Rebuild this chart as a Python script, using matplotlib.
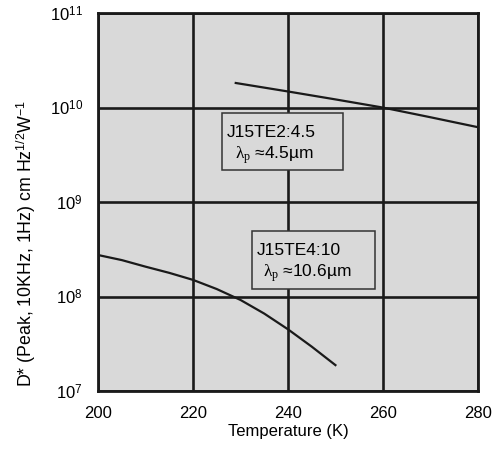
import matplotlib

matplotlib.use("Agg")

import matplotlib.pyplot as plt
from matplotlib.patches import Rectangle
from matplotlib.ticker import FixedLocator, FixedFormatter, NullLocator

plt.rcParams["font.family"] = ["Liberation Sans", "DejaVu Sans"]
plt.rcParams["mathtext.fontset"] = "custom"
plt.rcParams["mathtext.rm"] = "Liberation Sans"
plt.rcParams["mathtext.it"] = "Liberation Serif"
plt.rcParams["mathtext.bf"] = "Liberation Sans:bold"

# J15TE2:4.5 (lambda_p ~ 4.5 um)
temp_45 = [229, 240, 250, 260, 270, 280]
dstar_45 = [1.82e10, 1.48e10, 1.22e10, 1.0e10, 7.9e9, 6.2e9]

# J15TE4:10 (lambda_p ~ 10.6 um)
temp_106 = [200, 205, 210, 215, 220, 225, 230, 235, 240, 245, 250]
dstar_106 = [2.75e8, 2.43e8, 2.07e8, 1.78e8, 1.5e8, 1.2e8, 9.2e7, 6.6e7, 4.5e7, 2.95e7, 1.88e7]

x_ticks = [200, 220, 240, 260, 280]
y_ticks = [1e7, 1e8, 1e9, 1e10, 1e11]
y_tick_labels = [r"$10^{7}$", r"$10^{8}$", r"$10^{9}$", r"$10^{10}$", r"$10^{11}$"]

label_45 = ["J15TE2:4.5", "$\\lambda_{p}$ \u22484.5\u00b5m"]
label_106 = ["J15TE4:10", "$\\lambda_{p}$ \u224810.6\u00b5m"]

line_color = "#1a1a1a"

fig = plt.figure(figsize=(5.03, 4.51), dpi=100)
ax = fig.add_axes([0.195, 0.133, 0.755, 0.838])
ax.set_facecolor("#d9d9d9")

ax.set_yscale("log")
ax.set_xlim(200, 280)
ax.set_ylim(1e7, 1e11)

ax.xaxis.set_major_locator(FixedLocator(x_ticks))
ax.yaxis.set_major_locator(FixedLocator(y_ticks))
ax.yaxis.set_major_formatter(FixedFormatter(y_tick_labels))
ax.yaxis.set_minor_locator(NullLocator())
ax.tick_params(length=0, labelsize=12, pad=11)

ax.grid(True, color=line_color, linewidth=1.9)
ax.set_axisbelow(True)
for spine in ax.spines.values():
    spine.set_linewidth(2.0)
    spine.set_color(line_color)

ax.plot(temp_45, dstar_45, color=line_color, linewidth=1.6)
ax.plot(temp_106, dstar_106, color=line_color, linewidth=1.6)


def draw_label_box(axis, box, lines, line1_pos, line2_pos):
    x0, y0, x1, y1 = box
    axis.add_patch(Rectangle((x0, y0), x1 - x0, y1 - y0, transform=axis.transAxes,
                             facecolor="#d9d9d9", edgecolor="#333333", linewidth=1.1, zorder=3))
    axis.text(line1_pos[0], line1_pos[1], lines[0], transform=axis.transAxes,
              fontsize=12.5, ha="left", va="baseline", zorder=4)
    axis.text(line2_pos[0], line2_pos[1], lines[1], transform=axis.transAxes,
              fontsize=12.5, ha="left", va="baseline", zorder=4)


draw_label_box(ax, (0.326, 0.585, 0.645, 0.735), label_45, (0.339, 0.672), (0.361, 0.614))
draw_label_box(ax, (0.405, 0.270, 0.729, 0.423), label_106, (0.418, 0.360), (0.434, 0.302))

ax.set_xlabel("Temperature (K)", fontsize=12, labelpad=2)
ax.set_ylabel("D* (Peak, 10KHz, 1Hz) cm Hz$^{1/2}$W$^{\\mathregular{-1}}$", fontsize=12.8)
ax.yaxis.set_label_coords(-0.158, 0.39)

fig.savefig("out.png", dpi=100)
